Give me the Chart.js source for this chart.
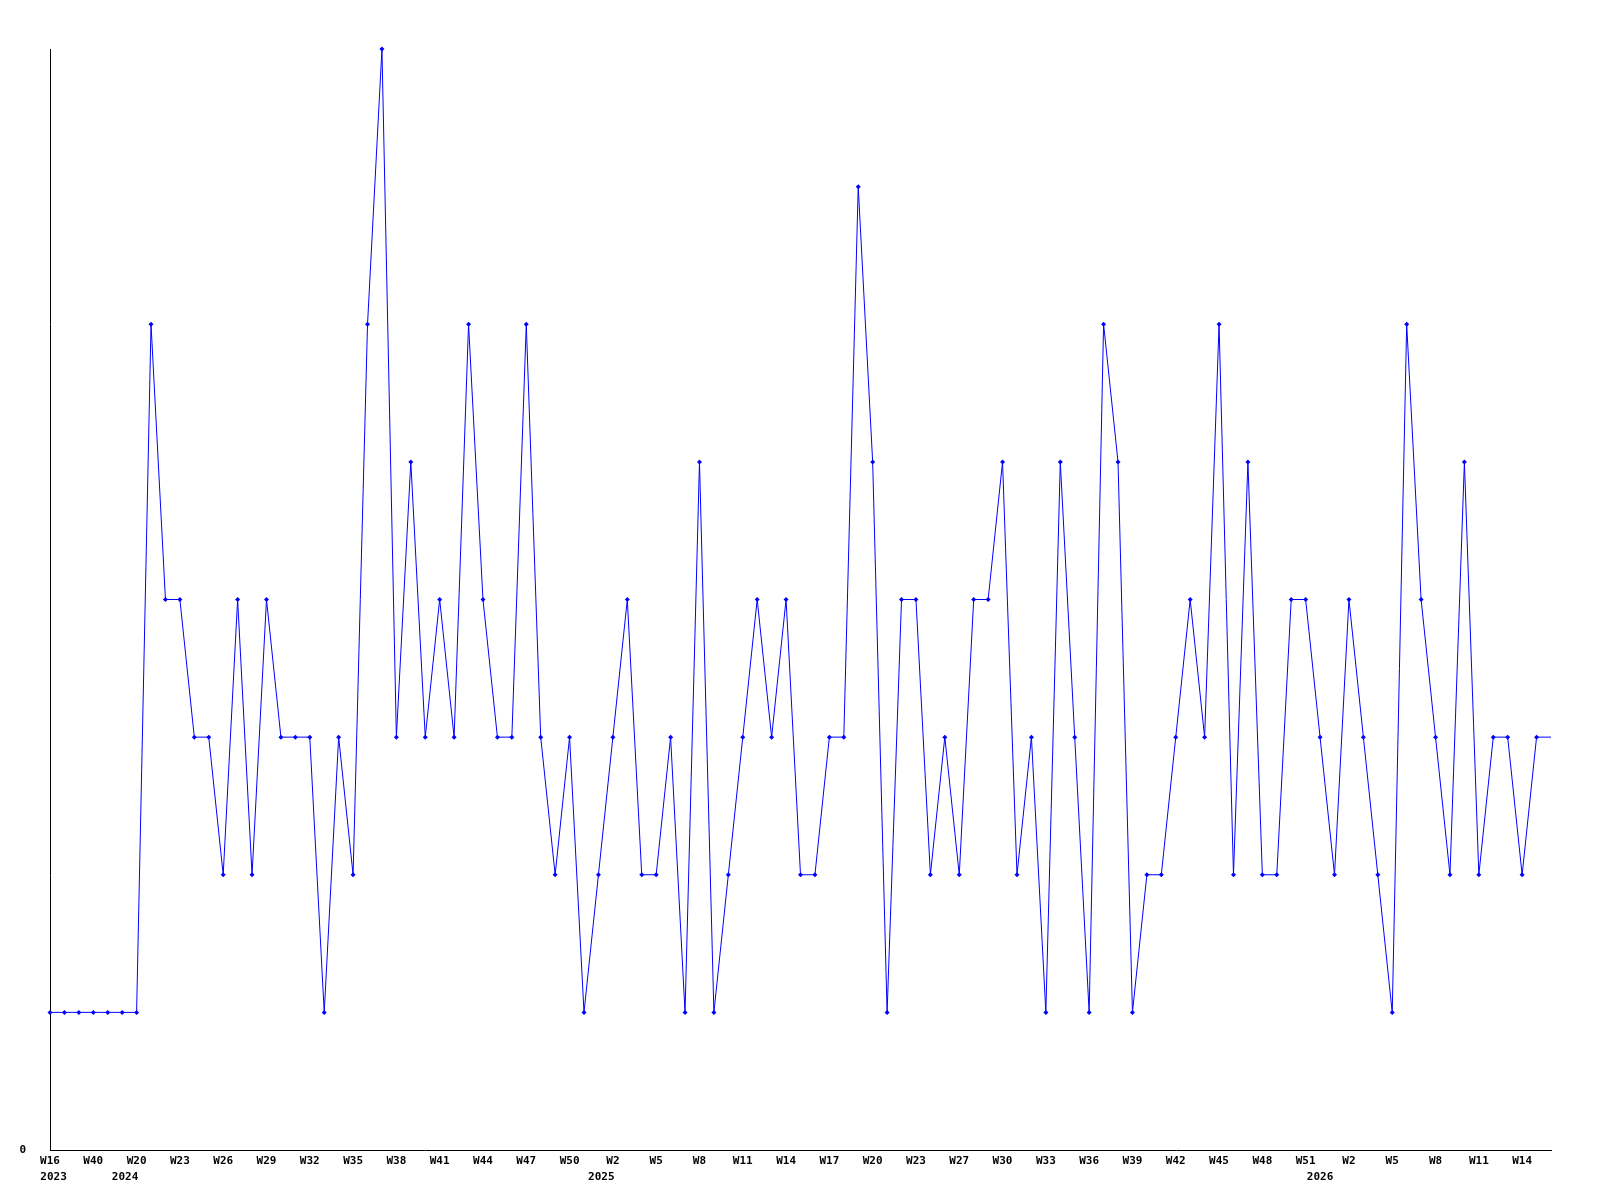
<!DOCTYPE html>
<html>
<head>
<meta charset="utf-8">
<script src="https://cdn.jsdelivr.net/npm/chart.js@4.4.1/dist/chart.umd.min.js"></script>
<style>
  html, body { margin: 0; padding: 0; background: #fff; }
  #wrap { width: 1600px; height: 1200px; }
</style>
</head>
<body>
<div id="wrap"><canvas id="myChart" width="1600" height="1200"></canvas></div>
<script>
// week of each point (one point per week)
const weeks = [
  'W16','W27','W35','W40','W46','W10','W20','W21','W22','W23',
  'W24','W25','W26','W27','W28','W29','W30','W31','W32','W33',
  'W34','W35','W36','W37','W38','W39','W40','W41','W42','W43',
  'W44','W45','W46','W47','W48','W49','W50','W51','W52','W2',
  'W3','W4','W5','W6','W7','W8','W9','W10','W11','W12',
  'W13','W14','W15','W16','W17','W18','W19','W20','W21','W22',
  'W23','W25','W26','W27','W28','W29','W30','W31','W32','W33',
  'W34','W35','W36','W37','W38','W39','W40','W41','W42','W43',
  'W44','W45','W46','W47','W48','W49','W50','W51','W52','W1',
  'W2','W3','W4','W5','W6','W7','W8','W9','W10','W11',
  'W12','W13','W14','W15','W16'
];
// year labels under the axis and where they sit (axis value)
const yearText = ['2023', '2024', '2025', '2026'];
const yearAt = [0.25, 5.2, 38.2, 88.0];

// counts per week
const counts = [
  1,1,1,1,1,1,1,6,4,4,
  3,3,2,4,2,4,3,3,3,1,
  3,2,6,8,3,5,3,4,3,6,
  4,3,3,6,3,2,3,1,2,3,
  4,2,2,3,1,5,1,2,3,4,
  3,4,2,2,3,3,7,5,1,4,
  4,2,3,2,4,4,5,2,3,1,
  5,3,1,6,5,1,2,2,3,4,
  3,6,2,5,2,2,4,4,3,2,
  4,3,2,1,6,4,3,2,5,2,
  3,3,2,3,3
];
const lastOpen = counts.length - 1; // current week, no marker

const radii = counts.map((v, i) => i === lastOpen ? 0 : 2.5);

const tickFont = { family: 'DejaVu Sans Mono', size: 11, weight: 'bold', lineHeight: 1.2 };

// second row of the x axis: the years
const yearRow = {
  id: 'yearRow',
  afterDraw(chart) {
    const xs = chart.scales.x;
    const c = chart.ctx;
    c.save();
    c.font = 'bold 11px "DejaVu Sans Mono"';
    c.fillStyle = '#000';
    c.textAlign = 'center';
    c.textBaseline = 'middle';
    yearText.forEach((t, k) => {
      c.fillText(t, xs.getPixelForValue(yearAt[k]), xs.top + 27);
    });
    c.restore();
  }
};

const ctx = document.getElementById('myChart').getContext('2d');
const chart = new Chart(ctx, {
  type: 'line',
  data: {
    labels: weeks,
    datasets: [{
      data: counts,
      borderColor: '#0000ff',
      backgroundColor: '#0000ff',
      borderWidth: 1,
      pointStyle: 'rectRot',
      pointRadius: radii,
      pointBorderWidth: 0,
      tension: 0,
      clip: false
    }]
  },
  options: {
    responsive: false,
    animation: false,
    layout: { padding: { top: 49, right: 49, left: 0, bottom: 0 } },
    plugins: { legend: { display: false }, tooltip: { enabled: false } },
    scales: {
      x: {
        type: 'category',
        offset: false,
        grid: { display: false, drawTicks: false },
        border: { display: true, color: '#000', width: 1 },
        afterFit: (s) => { s.height = 50; },
        ticks: {
          autoSkip: false,
          maxRotation: 0,
          minRotation: 0,
          padding: 5,
          color: '#000',
          font: tickFont,
          callback: function (val, i) {
            if (i % 3 !== 0 || i >= lastOpen) return '';
            return weeks[i];
          }
        }
      },
      y: {
        min: 0,
        max: 8,
        grid: { display: false, drawTicks: false },
        border: { display: true, color: '#000', width: 1 },
        afterFit: (s) => { s.width = 50; },
        ticks: {
          stepSize: 1,
          padding: 24,
          color: '#000',
          font: tickFont,
          callback: (v) => v === 0 ? '0' : ''
        }
      }
    }
  },
  plugins: [yearRow]
});
</script>
</body>
</html>
